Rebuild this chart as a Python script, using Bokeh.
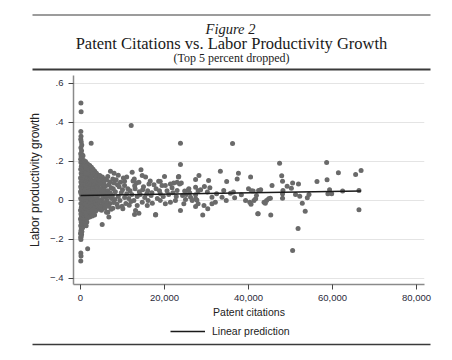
from bokeh.plotting import figure
from bokeh.models import Range1d, FixedTicker, NumeralTickFormatter, Legend, LegendItem
from bokeh.layouts import column
from bokeh.core.properties import value
from bokeh.embed import file_html
from bokeh.resources import INLINE

# ---------------- data ----------------
# dense column near zero citations
cites_a = [100,150,80,120,60,200,300,90,250,50,400,150,600,30,350,800,100,500,900,200,650,1000,50,400,750,150,550,950,300,20,700,450,1050,100,850,250,600,50,400,950,200,700,0,500,1000,150,800,350,650,50,950,250,550,850,100,400,750,200,1000,550,0,300,850,650,100,450,950,200,700,0,400,150,600,300,50,500,200,100,350,0,250,150,50,100,200,80,120,60,1700]
growth_a = [0.50,0.455,0.354,0.33,0.314,0.30,0.285,0.27,0.255,0.24,0.235,0.225,0.23,0.21,0.215,0.205,0.195,0.19,0.185,0.175,0.17,0.165,0.16,0.155,0.15,0.14,0.135,0.13,0.125,0.115,0.115,0.105,0.10,0.095,0.09,0.085,0.08,0.07,0.07,0.065,0.06,0.055,0.045,0.045,0.04,0.035,0.03,0.025,0.02,0.01,0.01,0.005,0.0,-0.005,-0.015,-0.02,-0.025,-0.035,-0.035,-0.04,-0.05,-0.055,-0.055,-0.065,-0.07,-0.075,-0.08,-0.085,-0.09,-0.095,-0.10,-0.11,-0.115,-0.125,-0.13,-0.14,-0.145,-0.155,-0.16,-0.17,-0.175,-0.185,-0.19,-0.20,-0.165,-0.27,-0.285,-0.31,-0.248]

cites_b = [1200,1500,1800,2200,1300,1700,2100,2400,1250,1600,2000,1400,1900,2300,1150,1550,2050,2450,1350,1750,2150,1200,1650,2350,1450,1950,1150,2250,1600,1850,1300,2400,1700,2050,1250,1500,2200,1800,1350,2450,1650,1150,2000,1450,2300,1250,1750,2100,1500,1200,1900,1400,1650,1250,1500,1200,1350,2200,1200,1900,2540]
growth_b = [0.20,0.19,0.185,0.18,0.175,0.165,0.16,0.15,0.155,0.145,0.14,0.13,0.125,0.12,0.115,0.11,0.105,0.10,0.095,0.09,0.085,0.08,0.075,0.07,0.065,0.06,0.055,0.05,0.045,0.04,0.035,0.03,0.025,0.02,0.015,0.01,0.005,0.0,-0.005,-0.01,-0.015,-0.02,-0.025,-0.03,-0.035,-0.04,-0.045,-0.05,-0.055,-0.065,-0.07,-0.08,-0.09,-0.10,-0.11,-0.12,-0.13,-0.085,0.14,0.045,0.294]

cites_c = [2600,3000,3400,2700,3800,4200,2900,3300,4400,2600,3600,4000,2800,3200,4300,3700,2650,3100,4100,3500,2900,4450,3300,3900,2700,4200,3100,3650,2550,4000,3400,2850,4350,3750,3000,2600,4100,3450,2800,3900,3200,4400,2700,3600,3000,2600,3350,2800,4150,3550]
growth_c = [0.17,0.16,0.15,0.15,0.14,0.13,0.135,0.125,0.12,0.12,0.115,0.105,0.10,0.095,0.09,0.085,0.08,0.075,0.07,0.065,0.06,0.055,0.05,0.045,0.04,0.035,0.03,0.025,0.02,0.015,0.01,0.005,0.0,-0.005,-0.01,-0.015,-0.02,-0.025,-0.03,-0.035,-0.04,-0.045,-0.05,-0.055,-0.06,-0.07,-0.075,-0.08,0.06,0.02]

cites_d = [4600,5200,6500,7140,5800,4900,6200,7000,5500,4700,6800,6000,5300,7300,4800,5700,6500,5100,7100,6000,4600,5400,6800,5900,7400,5000,6300,4700,5600,7000,6100,5200,6700,4800,5800,7300,5000,6500,6190,6750,5160]
growth_d = [0.128,0.12,0.123,0.15,0.11,0.10,0.105,0.095,0.09,0.085,0.08,0.075,0.07,0.065,0.06,0.055,0.05,0.045,0.04,0.035,0.03,0.025,0.02,0.015,0.01,0.005,0.0,-0.005,-0.01,-0.015,-0.02,-0.025,-0.03,-0.035,-0.04,-0.045,-0.05,-0.06,-0.06,-0.085,-0.123]

cites_e = [7700,8490,9520,10480,10480,11270,8000,8800,9200,7800,10000,11800,8300,9700,11000,12200,7600,9000,10500,11500,8200,9400,12000,7900,10800,8700,11600,9900,8890,10080,7700,12070,12300,11000,9000,12500,8000,10200]
growth_e = [0.11,0.106,0.094,0.099,0.077,0.06,0.09,0.08,0.07,0.06,0.055,0.05,0.045,0.04,0.035,0.03,0.025,0.02,0.015,0.01,0.005,0.0,-0.005,-0.01,-0.015,-0.02,-0.025,-0.03,-0.034,-0.043,-0.04,0.385,0.145,0.12,0.13,0.10,0.14,0.115]

cites_f = [14700,15500,20000,13900,16300,18600,19400,14400,12860,12700,13500,14700,15900,17100,17900,13100,13900,19000,17860,13000,14000,15000,16000,17000,18000,19000,13500,15300,16800,18300,19700,14200,16100,17500,13300,15800,18800,19000,12900,16600,14800,12800]
growth_f = [0.128,0.12,0.123,0.094,0.085,0.099,0.077,0.157,-0.072,0.0,-0.026,-0.009,-0.026,-0.014,-0.072,-0.051,-0.065,0.0,-0.074,0.06,0.045,0.07,0.05,0.04,0.06,0.035,0.02,0.015,0.025,0.01,0.02,0.03,0.0,0.08,0.09,0.035,0.05,0.097,0.075,0.10,0.055,0.11]

cites_g = [20200,21800,23000,23300,24000,23000,24800,25700,26200,27400,27700,21400,22200,23600,25800,27400,28000,23400,28200,23800,23800,20200,21400,22600,23800,24600,26600,27400,28000,27400,21000,22000,24300,25200,26000,20600,22800,25000]
growth_g = [0.077,0.065,0.094,0.12,0.089,0.051,0.048,0.055,0.017,0.029,0.002,0.085,0.089,0.085,0.06,0.068,0.05,0.123,0.128,0.185,0.294,-0.017,-0.009,0.0,-0.051,-0.017,0.0,0.009,-0.017,-0.031,0.03,0.04,0.025,0.03,0.04,0.05,0.02,0.005]

cites_h = [28600,29500,30200,30800,31300,32100,32400,33700,34100,29400,30300,31300,34700,35700,36400,36700,38300,39300,40300,41300,40600,29100,42300,33300,37600,27400,30500,34800,40500,37300,40000,40700,42400,36200,41100,41700,41900]
growth_h = [0.055,0.072,0.043,0.065,0.017,-0.009,0.034,0.017,0.051,-0.026,-0.043,-0.017,0.0,0.037,0.043,0.014,0.029,0.0,-0.009,0.0,-0.02,-0.074,-0.068,0.15,0.14,0.108,0.103,0.097,0.12,0.11,0.06,0.05,0.051,0.292,0.048,0.009,0.026]

cites_i = [47400,58600,61400,65500,66800,47900,48100,58700,56300,50500,51900,49200,50200,45600,42900,48200,48100,48100,51200,52200,54000,54400,52800,53500,51800,50500,59300,58900,59800,62400,66300,66300,43700,44300,44800,45200,44000,42200,45300]
growth_i = [0.191,0.195,0.142,0.133,0.154,0.127,0.099,0.106,0.097,0.089,0.085,0.073,0.063,0.077,0.055,0.051,0.034,0.012,0.031,0.022,0.014,0.031,-0.014,-0.055,-0.144,-0.256,0.055,0.034,0.034,0.048,0.051,-0.048,-0.009,0.0,0.009,0.012,-0.014,-0.068,-0.074]

# linear prediction
fit_intercept = 0.026
fit_slope = 3.3e-7

x_ticks = [0, 20000, 40000, 60000, 80000]
y_ticks = [-0.4, -0.2, 0.0, 0.2, 0.4, 0.6]
y_tick_labels = ["\u2212.4", "\u2212.2", "0", ".2", ".4", ".6"]

fig_label = "Figure 2"
title_text = "Patent Citations vs. Labor Productivity Growth"
subtitle_text = "(Top 5 percent dropped)"
legend_label = "Linear prediction"

# ---------------- assemble ----------------
cites = cites_a + cites_b + cites_c + cites_d + cites_e + cites_f + cites_g + cites_h + cites_i
growth = growth_a + growth_b + growth_c + growth_d + growth_e + growth_f + growth_g + growth_h + growth_i
fit_x = [min(cites), max(cites)]
fit_y = [fit_intercept + fit_slope * v for v in fit_x]

W = 452
SERIF = "Liberation Serif"
SANS = "Liberation Sans"
RULE = "#3a3a3a"
FIT_STYLE = dict(line_color="#1a1a1a", line_width=1.5)

# header: rules and titles, in page pixel coordinates
header = figure(width=W, height=72, x_range=Range1d(0, 452), y_range=Range1d(72, 0),
                output_backend="svg", toolbar_location=None, min_border=0,
                x_axis_location=None, y_axis_location=None, frame_align=False)
header.grid.visible = False
header.outline_line_color = None
header.segment(x0=[32], y0=[14.5], x1=[430], y1=[14.5], line_color=RULE, line_width=1.2)
header.segment(x0=[32], y0=[69], x1=[430], y1=[69], line_color=RULE, line_width=2)
header.text(x=[230], y=[28], text=[fig_label], text_font=value(SERIF), text_font_style="italic",
            text_font_size="14.5px", text_align="center", text_baseline="middle", text_color="#1a1a1a")
header.text(x=[231], y=[43], text=[title_text], text_font=value(SERIF),
            text_font_size="16.5px", text_align="center", text_baseline="middle", text_color="#1a1a1a")
header.text(x=[231], y=[57.5], text=[subtitle_text], text_font=value(SERIF),
            text_font_size="12px", text_align="center", text_baseline="middle", text_color="#1a1a1a")

# main scatter (page y 72 .. 324)
p = figure(width=W, height=252, x_range=Range1d(-1667, 81900), y_range=Range1d(-0.431, 0.641),
           output_backend="svg", toolbar_location=None, frame_align=False,
           min_border_left=73, min_border_right=28, min_border_top=3, min_border_bottom=40)
p.outline_line_color = None
p.xgrid.visible = False
p.ygrid.ticker = FixedTicker(ticks=y_ticks)
p.ygrid.grid_line_color = "#e4e4e4"
p.ygrid.grid_line_width = 1

p.scatter(cites, growth, size=5, fill_color="#6a6a6a", line_color=None)
p.line(fit_x, fit_y, **FIT_STYLE)

p.xaxis.ticker = FixedTicker(ticks=x_ticks)
p.xaxis.formatter = NumeralTickFormatter(format="0,0")
p.yaxis.ticker = FixedTicker(ticks=y_ticks)
p.yaxis.major_label_overrides = dict(zip(y_ticks, y_tick_labels))
p.xaxis.axis_label = "Patent citations"
p.yaxis.axis_label = "Labor productivity growth"
for ax in (p.xaxis[0], p.yaxis[0]):
    ax.axis_line_color = "#8a8a8a"
    ax.axis_line_width = 1.5
    ax.major_tick_line_color = "#444444"
    ax.major_tick_out = 5
    ax.major_tick_in = 0
    ax.minor_tick_line_color = None
    ax.major_label_text_font = SANS
    ax.major_label_text_font_size = "9.5px"
    ax.major_label_text_color = "#2a2a3a"
    ax.axis_label_text_font = SANS
    ax.axis_label_text_font_style = "normal"
    ax.axis_label_text_color = "#222222"
p.xaxis.major_label_standoff = 5
p.yaxis.major_label_standoff = 5
p.xaxis.axis_label_text_font_size = "10.5px"
p.yaxis.axis_label_text_font_size = "12px"
p.xaxis.axis_label_standoff = 2
p.yaxis.axis_label_standoff = 5

# footer: legend and bottom rule (page y 324 .. 360)
footer = figure(width=W, height=36, x_range=Range1d(0, 452), y_range=Range1d(360, 324),
                output_backend="svg", toolbar_location=None, min_border=0,
                x_axis_location=None, y_axis_location=None, frame_align=False)
footer.grid.visible = False
footer.outline_line_color = None
footer.segment(x0=[32], y0=[344], x1=[430], y1=[344], line_color=RULE, line_width=1.5)
# legend key for the fit line (the fit values lie outside this strip, so only the key shows)
key_line = footer.line(x=fit_x, y=fit_y, **FIT_STYLE)
legend = Legend(items=[LegendItem(label=legend_label, renderers=[key_line])],
                location=(170, 23), orientation="horizontal", glyph_width=35, glyph_height=12,
                label_standoff=7, padding=0, margin=0, border_line_color=None,
                background_fill_alpha=0, label_text_font=SANS, label_text_font_size="10.5px",
                label_text_color="#222222")
footer.add_layout(legend)

layout = column(header, p, footer, spacing=0)
open("out.html", "w").write(file_html(layout, INLINE))
